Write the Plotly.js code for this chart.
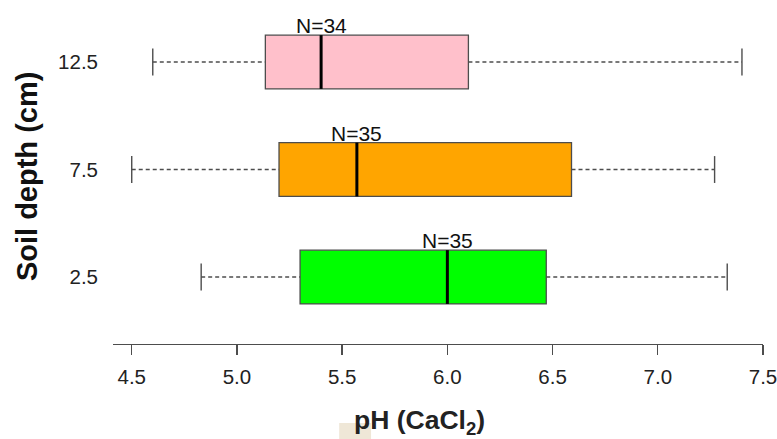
<!DOCTYPE html>
<html>
<head>
<meta charset="utf-8">
<script src="https://cdn.plot.ly/plotly-3.0.1.min.js"></script>
<style>html,body{margin:0;padding:0;background:#fff;}#chart{width:777px;height:439px;}</style>
</head>
<body>
<div id="chart"></div>
<script>
// ---- data ----
const depths = ['2.5', '7.5', '12.5'];          // soil depth (cm), bottom to top
const positions = [1, 2, 3];                    // category slots on the y axis
const nLabels = ['N=35', 'N=35', 'N=34'];
const lowerWhisker = [4.83, 4.50, 4.60];
const q1 = [5.30, 5.20, 5.135];
const median = [6.00, 5.57, 5.40];
const q3 = [6.47, 6.59, 6.10];
const upperWhisker = [7.33, 7.27, 7.40];
const xTickVals = [4.5, 5.0, 5.5, 6.0, 6.5, 7.0, 7.5];
const xTickText = ['4.5', '5.0', '5.5', '6.0', '6.5', '7.0', '7.5'];
const xTitle = '<b>pH (CaCl<sub>2</sub>)</b>';
const yTitle = '<b>Soil depth (cm)</b>';

// ---- styles ----
const fills = ['#00FF00', '#FFA500', '#FFC0CB'];
const outline = '#4d4d4d';
const boxHalf = 0.25;
const capHalf = 0.125;
const FONT = 'Liberation Sans, Arial, Helvetica, sans-serif';

const traces = [];
positions.forEach((p, i) => {
  // box body
  traces.push({
    type: 'box', orientation: 'h',
    y: [p], q1: [q1[i]], median: [median[i]], q3: [q3[i]],
    lowerfence: [q1[i]], upperfence: [q3[i]],
    width: boxHalf * 2, whiskerwidth: 0,
    fillcolor: fills[i], line: {color: outline, width: 1.3},
    boxpoints: false, hoverinfo: 'skip', showlegend: false
  });
  // dashed whiskers
  traces.push({
    type: 'scatter', mode: 'lines',
    x: [lowerWhisker[i], q1[i], null, q3[i], upperWhisker[i]],
    y: [p, p, null, p, p],
    line: {color: outline, width: 1.4, dash: '4px,3px'},
    hoverinfo: 'skip', showlegend: false
  });
  // whisker caps
  traces.push({
    type: 'scatter', mode: 'lines',
    x: [lowerWhisker[i], lowerWhisker[i], null, upperWhisker[i], upperWhisker[i]],
    y: [p - capHalf, p + capHalf, null, p - capHalf, p + capHalf],
    line: {color: outline, width: 1.4},
    hoverinfo: 'skip', showlegend: false
  });
  // thick median
  traces.push({
    type: 'scatter', mode: 'lines',
    x: [median[i], median[i]],
    y: [p - boxHalf, p + boxHalf],
    line: {color: '#000000', width: 3},
    hoverinfo: 'skip', showlegend: false
  });
});

const annotations = positions.map((p, i) => ({
  x: median[i], y: p + boxHalf, xref: 'x', yref: 'y',
  text: nLabels[i], showarrow: false,
  xanchor: 'center', yanchor: 'bottom', yshift: -4,
  font: {family: FONT, size: 21, color: '#111'}
}));
// axis titles (placed as in the reference)
annotations.push({
  text: xTitle, xref: 'paper', yref: 'paper', x: 0.471, y: -0.228,
  xanchor: 'center', yanchor: 'middle', showarrow: false,
  font: {family: FONT, size: 26.5, color: '#222'}
});
annotations.push({
  text: yTitle, xref: 'paper', yref: 'paper', x: -0.1324, y: 0.488,
  xanchor: 'center', yanchor: 'middle', showarrow: false, textangle: -90,
  font: {family: FONT, size: 29, color: '#111'}
});

const layout = {
  width: 777, height: 439,
  paper_bgcolor: '#ffffff', plot_bgcolor: '#ffffff',
  margin: {l: 113, r: 14, t: 0, b: 95},
  font: {family: FONT, color: '#222'},
  showlegend: false,
  xaxis: {
    range: [4.411, 7.5], autorange: false,
    tickvals: xTickVals, ticktext: xTickText,
    showline: true, linecolor: outline, linewidth: 1.3,
    ticks: 'outside', ticklen: 10, tickcolor: outline, tickwidth: 1.3,
    showgrid: false, zeroline: false,
    tickfont: {family: FONT, size: 20.5, color: '#222'},
    ticklabelstandoff: 4,
    ticklabeloverflow: 'allow',
    automargin: false
  },
  yaxis: {
    range: [0.377, 3.577], autorange: false,
    tickvals: positions, ticktext: depths,
    showline: false, ticks: '', showgrid: false, zeroline: false,
    tickfont: {family: FONT, size: 20.5, color: '#222'},
    ticklabelstandoff: 14,
    automargin: false
  },
  annotations: annotations,
  shapes: [{
    type: 'rect', xref: 'paper', yref: 'paper', layer: 'below',
    x0: 0.348, x1: 0.397, y0: -0.276, y1: -0.2297,
    fillcolor: '#EFE7D7', line: {width: 0}
  }]
};

Plotly.newPlot('chart', traces, layout, {displayModeBar: false, staticPlot: true});
</script>
</body>
</html>
